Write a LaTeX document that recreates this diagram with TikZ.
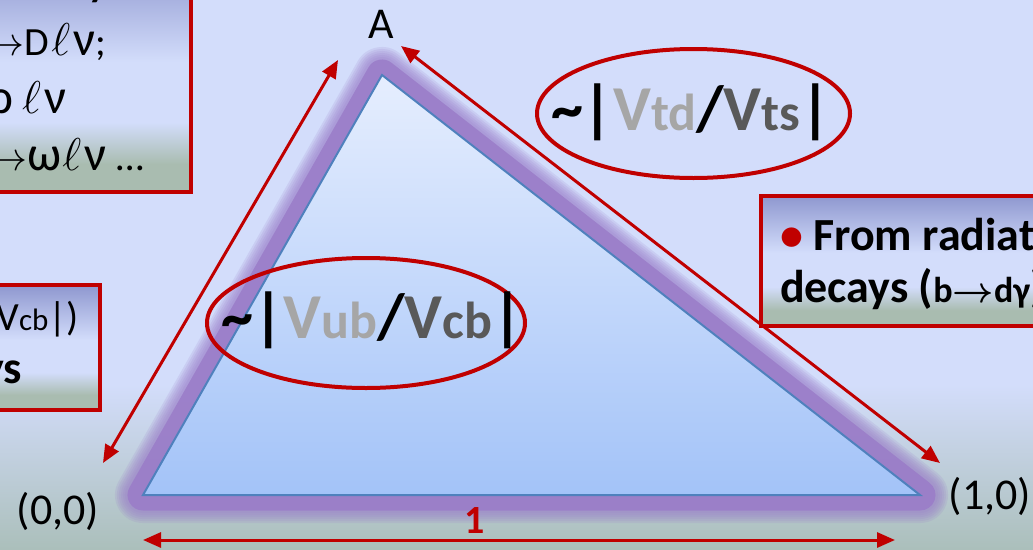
\RequirePackage{fix-cm}
\documentclass[tikz,border=0pt]{standalone}
\usepackage{fontspec}
\setmainfont{Carlito}
\usetikzlibrary{arrows.meta,shapes.geometric}
\definecolor{bgtop}{HTML}{D3DDFB}
\definecolor{bgbot}{HTML}{ABBFBB}
\definecolor{redline}{HTML}{C00000}
\definecolor{glowc}{HTML}{9A7CC8}
\definecolor{tritop}{HTML}{E6EEFE}
\definecolor{tribot}{HTML}{A3C3F8}
\definecolor{triedge}{HTML}{4F81BD}
\definecolor{boxtop}{HTML}{8E97CF}
\definecolor{boxlight}{HTML}{D3DDFB}
\definecolor{boxgreen}{HTML}{A9BCB0}
\definecolor{grayA}{HTML}{A6A6A6}
\definecolor{grayB}{HTML}{595959}
\pgfdeclareverticalshading{bgshade}{100bp}{color(0bp)=(bgbot); color(25bp)=(bgbot); color(40bp)=(bgtop); color(75bp)=(bgtop); color(100bp)=(bgtop)}
\pgfdeclareverticalshading{boxshade}{100bp}{color(0bp)=(boxgreen); color(25bp)=(boxgreen); color(31bp)=(boxgreen); color(40bp)=(boxlight); color(53bp)=(boxlight); color(75bp)=(boxtop); color(100bp)=(boxtop)}
\newcommand\bigfs{\fontsize{64}{70}\selectfont}
\newcommand\subfs[1]{{\fontsize{52}{56}\selectfont #1}}
\newcommand\gk[1]{{\fontsize{49}{50}\selectfont #1}}
\newcommand\ellbig{{\fontsize{46}{48}\selectfont$\ell$}}
\tikzset{
  redarrow/.style={draw=redline, line width=3pt, {Triangle[length=18pt,width=15pt]}-{Triangle[length=18pt,width=15pt]}},
  ring/.style={ellipse, draw=redline, line width=4pt, inner sep=0pt},
  infobox/.style={rectangle, draw=redline, line width=4pt, shade, shading=boxshade, inner sep=0pt},
  txt/.style={inner sep=0pt, outer sep=0pt},
  lbl/.style={txt, font=\fontsize{44}{50}\selectfont},
  ratio/.style={txt, anchor=base, font=\bigfs\bfseries},
  boxtxt/.style={txt, font=\fontsize{40}{44}\selectfont},
  boxbold/.style={txt, font=\fontsize{46}{52}\selectfont\bfseries},
}
\begin{document}
\begin{tikzpicture}[x=1pt,y=-1pt]
\useasboundingbox (0,0) rectangle (1033,549);
\clip (0,0) rectangle (1033,549);
% background
\shade[shading=bgshade] (0,0) rectangle (1033,549);

% triangle vertices
\coordinate (O) at (143,495);
\coordinate (X) at (920,495);
\coordinate (A) at (382,75);

% glow
\foreach \w in {56,52,48,44,40,36}
  \draw[glowc, line width=\w pt, opacity=0.16, line join=round] (O)--(X)--(A)--cycle;
\draw[glowc, line width=31pt, opacity=0.85, line join=round] (O)--(X)--(A)--cycle;
% triangle
\path[draw=triedge, line width=2pt, top color=tritop, bottom color=tribot, line join=miter] (O)--(X)--(A)--cycle;

% boxes
\node[infobox, minimum width=210.5pt, minimum height=232pt] (b1) at (85.25,76) {};
\node[infobox, minimum width=120pt, minimum height=125pt] (b2) at (40,347.5) {};
\node[infobox, minimum width=299.5pt, minimum height=130.5pt] (b3) at (910.25,260.75) {};

% box 1 text
\node[txt, anchor=base west, font=\fontsize{40}{44}\selectfont\bfseries] (b1l1) at (88,-4) {y};
\node[boxtxt, anchor=base east] (b1l2) at (106,55) {$\rightarrow$D\kern2pt\ellbig\kern3pt\gk{ν};};
\node[boxtxt, anchor=base east] (b1l3) at (66,113) {\gk{ρ}\kern9pt\ellbig\kern3pt\gk{ν}};
\node[boxtxt, anchor=base east] (b1l4) at (144,170) {$\rightarrow$\gk{ω}\kern1pt\ellbig\kern3pt\gk{ν}\kern10pt…};

% box 2 text
\node[boxtxt, anchor=base east] (b2l1) at (79,330) {(|V{\fontsize{31}{33}\selectfont ub}/V{\fontsize{31}{33}\selectfont cb}|)};
\node[boxbold, anchor=base east] (b2l2) at (22,383) {decays};

% box 3 text
\node[boxbold, anchor=base west] (b3l1) at (780,250) {\textcolor{redline}{•} From radiative};
\node[boxbold, anchor=base west] (b3l2) at (780,302) {decays ({\fontsize{36}{40}\selectfont b{\boldmath$\rightarrow$}dγ})};

% ellipses
\node[ring, minimum width=313pt, minimum height=129pt] (e1) at (693.5,113.5) {};
\node[ring, minimum width=318pt, minimum height=130pt] (e2) at (366,323) {};
\node[ratio] (t1) at (691,130) {\textasciitilde|\textcolor{grayA}{V\subfs{td}}/\textcolor{grayB}{V\subfs{ts}}|};
\node[ratio] (t2) at (372,338) {\textasciitilde|\textcolor{grayA}{V\subfs{ub}}/\textcolor{grayB}{V\subfs{cb}}|};

% labels
\node[lbl, anchor=base] (lA) at (381,38) {A};
\node[lbl, anchor=base] (l00) at (58,524) {(0,0)};
\node[lbl, anchor=base] (l10) at (990,509) {(1,0)};
\node[txt, anchor=base, text=redline, font=\fontsize{40}{44}\selectfont\bfseries] (l1) at (475,533) {1};

% arrows
\coordinate (aL1) at (103,463);
\coordinate (aL2) at (338,60);
\coordinate (aR1) at (401,46);
\coordinate (aR2) at (940,463);
\coordinate (aB1) at (143,540);
\coordinate (aB2) at (895,540);
\draw[redarrow] (aL1) -- (aL2);
\draw[redarrow] (aR1) -- (aR2);
\draw[redarrow] (aB1) -- (aB2);
\end{tikzpicture}
\end{document}
